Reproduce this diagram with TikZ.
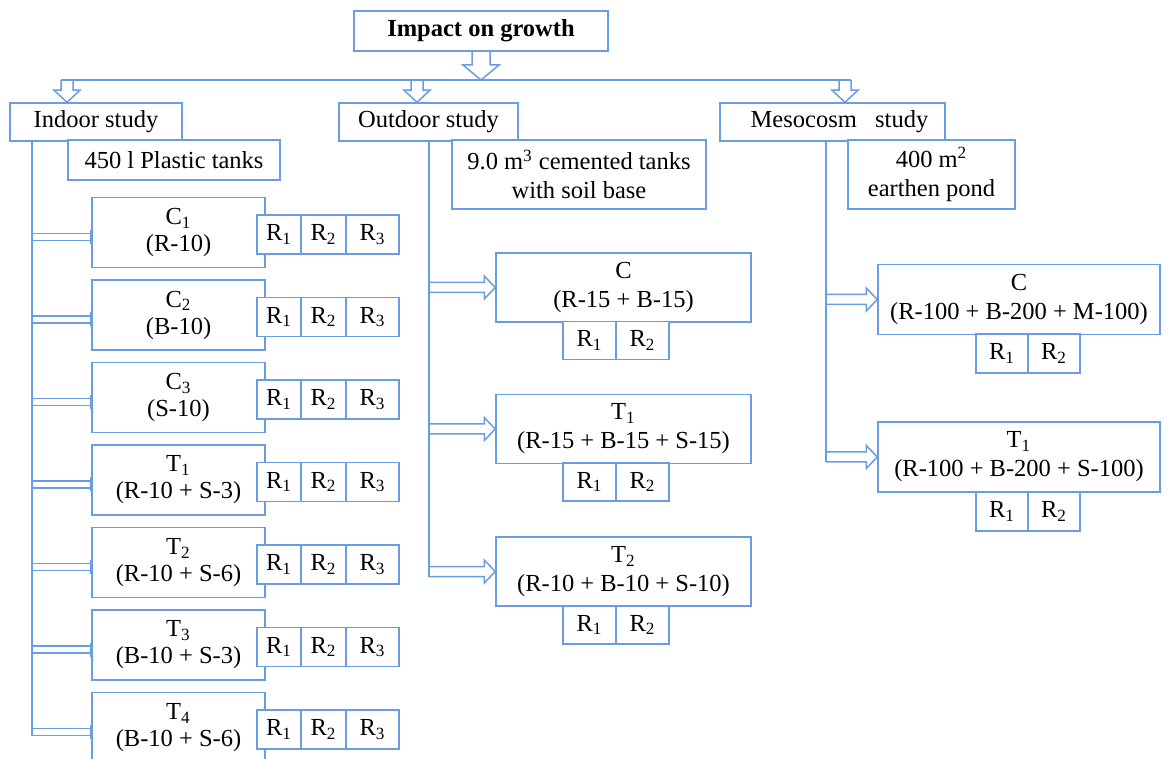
\documentclass[tikz,border=0pt]{standalone}
\usepackage{fontspec}
\setmainfont{Liberation Serif}
\usetikzlibrary{calc}
\definecolor{lineblue}{RGB}{106,156,226}
\tikzset{
  box/.style={draw=lineblue, line width=0.75pt, fill=white, align=center, inner sep=0pt},
  headbox/.style={box, minimum width=127pt, minimum height=20pt, font=\fontsize{12.25}{13.5}\selectfont\bfseries},
  studybox/.style={box, minimum height=19pt},
  trtbox/.style={box, minimum width=86.5pt, minimum height=35pt},
  obox/.style={box, minimum width=127.5pt, minimum height=34.5pt},
  mbox/.style={box, minimum width=141pt, minimum height=35pt},
  rcell/.style={box, minimum height=19.5pt},
  conn/.style={draw=lineblue, line width=0.75pt},
  darrow/.style n args={3}{conn, to path={let \p1=(\tikztostart), \p2=(\tikztotarget) in
      (\x1-#1,\y1) -- (\x1-#1,\y2+#3) -- (\x1-#2,\y2+#3) -- (\x1,\y2)
      -- (\x1+#2,\y2+#3) -- (\x1+#1,\y2+#3) -- (\x1+#1,\y1)}},
  rarrow/.style={conn, to path={let \p1=(\tikztostart), \p2=(\tikztotarget) in
      (\x1,\y1+2.5pt) -- (\x2-5.5pt,\y1+2.5pt) -- (\x2-5.5pt,\y1+5.75pt) -- (\x2,\y1)
      -- (\x2-5.5pt,\y1-5.75pt) -- (\x2-5.5pt,\y1-2.5pt) -- (\x1,\y1-2.5pt)}},
  dshaft/.style={conn, to path={let \p1=(\tikztostart), \p2=(\tikztotarget) in
      (\x1,\y1+1.75pt) -- (\x2,\y1+1.75pt) (\x1,\y1-1.75pt) -- (\x2,\y1-1.75pt)
      (\x2-0.5pt,\y1+3.5pt) -- (\x2-0.5pt,\y1-3.5pt)}}
}

\begin{document}
\begin{tikzpicture}[x=0.5pt, y=-0.5pt, font=\fontsize{12.25}{13.5}\selectfont]
\useasboundingbox (0,0) rectangle (1174,759);

\node[headbox] (imp) at (481,31) {Impact on growth};
\node[studybox, minimum width=86pt] (indoor) at (96,122) {Indoor study};
\node[studybox, minimum width=89.5pt] (outdoor) at (428.5,122) {Outdoor study};
\node[studybox, minimum width=112.5pt] (meso) at (832.5,122) {\hspace*{7pt}Mesocosm\ \ \ study};
\node[box, minimum width=106pt, minimum height=20pt] (plastic) at (174,160) {450 l Plastic tanks};
\node[box, minimum width=127pt, minimum height=34.5pt] (cement) at (579,174.5)
    {9.0 m\textsuperscript{3} cemented tanks\\[1pt] with soil base};
\node[box, minimum width=83.5pt, minimum height=34.5pt] (pond) at (931.5,174.5)
    {400 m\textsuperscript{2}\\[1pt] earthen pond};

\coordinate (hl) at (67,80);
\coordinate (hm) at (417,80);
\coordinate (hr) at (845,80);
\draw[darrow={4.5pt}{9pt}{7.5pt}] (imp.south) to (imp.south |- hl);
\draw[conn] ([xshift=-3pt]hl) -- ([xshift=3pt]hr);
\draw[darrow={3pt}{6.5pt}{6pt}] (hl) to (hl |- indoor.north);
\draw[darrow={3pt}{6.5pt}{6pt}] (hm) to (hm |- outdoor.north);
\draw[darrow={3pt}{6.5pt}{6pt}] (hr) to (hr |- meso.north);

\node[trtbox] (ic1) at (178.5,232.5) {C\textsubscript{1}\\(R-10)};
\node[trtbox] (ic2) at (178.5,315) {C\textsubscript{2}\\(B-10)};
\node[trtbox] (ic3) at (178.5,397.5) {C\textsubscript{3}\\(S-10)};
\node[trtbox] (it1) at (178.5,480) {T\textsubscript{1}\\(R-10 + S-3)};
\node[trtbox] (it2) at (178.5,562.5) {T\textsubscript{2}\\(R-10 + S-6)};
\node[trtbox] (it3) at (178.5,645) {T\textsubscript{3}\\(B-10 + S-3)};
\node[trtbox] (it4) at (178.5,727.5) {T\textsubscript{4}\\(B-10 + S-6)};

\node[rcell, minimum width=22pt] (ic1r1) at (279,234.5) {R\textsubscript{1}};
\node[rcell, minimum width=22.5pt] (ic1r2) at (323.5,234.5) {R\textsubscript{2}};
\node[rcell, minimum width=26.5pt] (ic1r3) at (372.5,234.5) {R\textsubscript{3}};
\node[rcell, minimum width=22pt] (ic2r1) at (279,317) {R\textsubscript{1}};
\node[rcell, minimum width=22.5pt] (ic2r2) at (323.5,317) {R\textsubscript{2}};
\node[rcell, minimum width=26.5pt] (ic2r3) at (372.5,317) {R\textsubscript{3}};
\node[rcell, minimum width=22pt] (ic3r1) at (279,399.5) {R\textsubscript{1}};
\node[rcell, minimum width=22.5pt] (ic3r2) at (323.5,399.5) {R\textsubscript{2}};
\node[rcell, minimum width=26.5pt] (ic3r3) at (372.5,399.5) {R\textsubscript{3}};
\node[rcell, minimum width=22pt] (it1r1) at (279,482) {R\textsubscript{1}};
\node[rcell, minimum width=22.5pt] (it1r2) at (323.5,482) {R\textsubscript{2}};
\node[rcell, minimum width=26.5pt] (it1r3) at (372.5,482) {R\textsubscript{3}};
\node[rcell, minimum width=22pt] (it2r1) at (279,564.5) {R\textsubscript{1}};
\node[rcell, minimum width=22.5pt] (it2r2) at (323.5,564.5) {R\textsubscript{2}};
\node[rcell, minimum width=26.5pt] (it2r3) at (372.5,564.5) {R\textsubscript{3}};
\node[rcell, minimum width=22pt] (it3r1) at (279,647) {R\textsubscript{1}};
\node[rcell, minimum width=22.5pt] (it3r2) at (323.5,647) {R\textsubscript{2}};
\node[rcell, minimum width=26.5pt] (it3r3) at (372.5,647) {R\textsubscript{3}};
\node[rcell, minimum width=22pt] (it4r1) at (279,729.5) {R\textsubscript{1}};
\node[rcell, minimum width=22.5pt] (it4r2) at (323.5,729.5) {R\textsubscript{2}};
\node[rcell, minimum width=26.5pt] (it4r3) at (372.5,729.5) {R\textsubscript{3}};

\coordinate (itop) at (32,141);
\coordinate (ibot) at (32,735.5);
\draw[dshaft] ($(itop |- ic1.west)+(0,4.5)$) to (ic1.west);
\draw[dshaft] ($(itop |- ic2.west)+(0,4.5)$) to (ic2.west);
\draw[dshaft] ($(itop |- ic3.west)+(0,4.5)$) to (ic3.west);
\draw[dshaft] ($(itop |- it1.west)+(0,4.5)$) to (it1.west);
\draw[dshaft] ($(itop |- it2.west)+(0,4.5)$) to (it2.west);
\draw[dshaft] ($(itop |- it3.west)+(0,4.5)$) to (it3.west);
\draw[dshaft] ($(itop |- it4.west)+(0,4.5)$) to (it4.west);
\draw[conn] (itop) -- (ibot);

\node[obox] (oc) at (623.5,287.5) {C\\[1pt](R-15 + B-15)};
\node[obox] (ot1) at (623.5,429) {T\textsubscript{1}\\[1pt](R-15 + B-15 + S-15)};
\node[obox] (ot2) at (623.5,571.5) {T\textsubscript{2}\\[1pt](R-10 + B-10 + S-10)};
\node[rcell, minimum width=26.5pt, minimum height=19pt] (ocr1) at (589.5,340.5) {R\textsubscript{1}};
\node[rcell, minimum width=26.5pt, minimum height=19pt] (ocr2) at (642.5,340.5) {R\textsubscript{2}};
\node[rcell, minimum width=26.5pt, minimum height=19pt] (ot1r1) at (589.5,482) {R\textsubscript{1}};
\node[rcell, minimum width=26.5pt, minimum height=19pt] (ot1r2) at (642.5,482) {R\textsubscript{2}};
\node[rcell, minimum width=26.5pt, minimum height=19pt] (ot2r1) at (589.5,625) {R\textsubscript{1}};
\node[rcell, minimum width=26.5pt, minimum height=19pt] (ot2r2) at (642.5,625) {R\textsubscript{2}};

\coordinate (otop) at (429,141);
\coordinate (obot) at (429,576.5);
\draw[rarrow] (otop |- oc.west) to (oc.west);
\draw[rarrow] (otop |- ot1.west) to (ot1.west);
\draw[rarrow] (otop |- ot2.west) to (ot2.west);
\draw[conn] (otop) -- (obot);

\node[mbox] (mc) at (1019,299.5) {C\\[1pt](R-100 + B-200 + M-100)};
\node[mbox] (mt1) at (1019,457) {T\textsubscript{1}\\[1pt](R-100 + B-200 + S-100)};
\node[rcell, minimum width=26pt] (mcr1) at (1002,353.5) {R\textsubscript{1}};
\node[rcell, minimum width=26pt] (mcr2) at (1054,353.5) {R\textsubscript{2}};
\node[rcell, minimum width=26pt] (mt1r1) at (1002,511.5) {R\textsubscript{1}};
\node[rcell, minimum width=26pt] (mt1r2) at (1054,511.5) {R\textsubscript{2}};

\coordinate (mtop) at (826,141);
\coordinate (mbot) at (826,462);
\draw[rarrow] (mtop |- mc.west) to (mc.west);
\draw[rarrow] (mtop |- mt1.west) to (mt1.west);
\draw[conn] (mtop) -- (mbot);
\end{tikzpicture}
\end{document}
